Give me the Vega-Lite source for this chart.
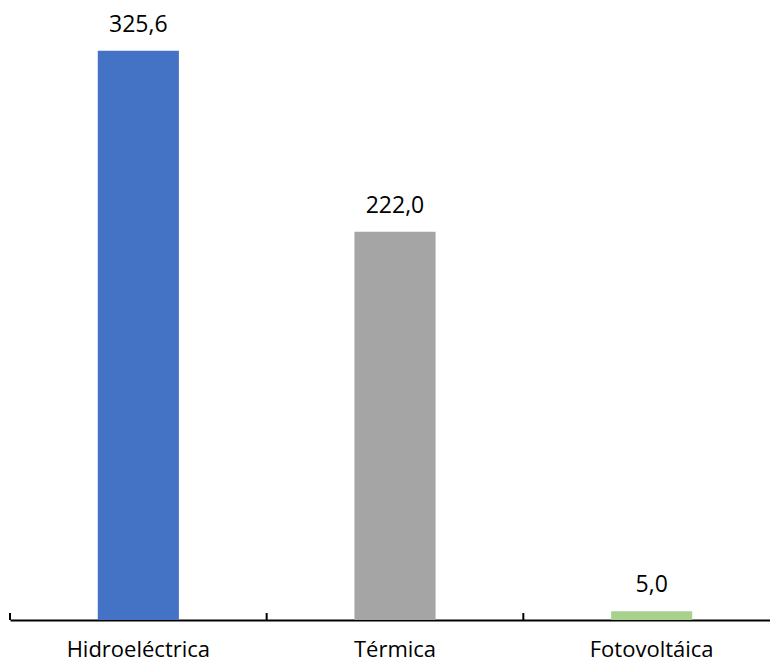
{
  "$schema": "https://vega.github.io/schema/vega-lite/v6.json",
  "autosize": {"type": "none"},
  "padding": {"left": 10, "top": 8, "right": -10, "bottom": 41},
  "width": 770,
  "height": 612,
  "background": "white",
  "data": {"values": [
    {"tipo": "Hidroeléctrica", "valor": 325.6, "etiqueta": "325,6", "color": "#4472C4"},
    {"tipo": "Térmica", "valor": 222.0, "etiqueta": "222,0", "color": "#A5A5A5"},
    {"tipo": "Fotovoltáica", "valor": 5.0, "etiqueta": "5,0", "color": "#A9D18E"}
  ]},
  "config": {"view": {"stroke": null}, "font": "Open Sans"},
  "encoding": {
    "x": {"field": "tipo", "type": "nominal", "sort": null,
      "scale": {"paddingInner": 0, "paddingOuter": 0},
      "axis": {"title": null, "labelAngle": 0, "labelFontSize": 22, "labelColor": "#000000", "labelFont": "Open Sans",
        "domainColor": "#000000", "domainWidth": 2, "ticks": false, "labelPadding": 19}}
  },
  "layer": [
    {"mark": {"type": "bar", "width": {"band": 0.316}},
     "encoding": {
       "y": {"field": "valor", "type": "quantitative", "scale": {"domain": [0, 350]}, "axis": null},
       "color": {"field": "color", "type": "nominal", "scale": null}}},
    {"mark": {"type": "text", "baseline": "bottom", "dy": -14, "fontSize": 23, "font": "Open Sans", "color": "#000000"},
     "encoding": {
       "y": {"field": "valor", "type": "quantitative"},
       "text": {"field": "etiqueta"}}},
    {"mark": {"type": "rule", "color": "#000000", "strokeWidth": 2},
     "encoding": {
       "x": {"field": "tipo", "type": "nominal", "sort": null, "bandPosition": 0},
       "y": {"datum": 0},
       "y2": {"datum": 4}}}
  ]
}
